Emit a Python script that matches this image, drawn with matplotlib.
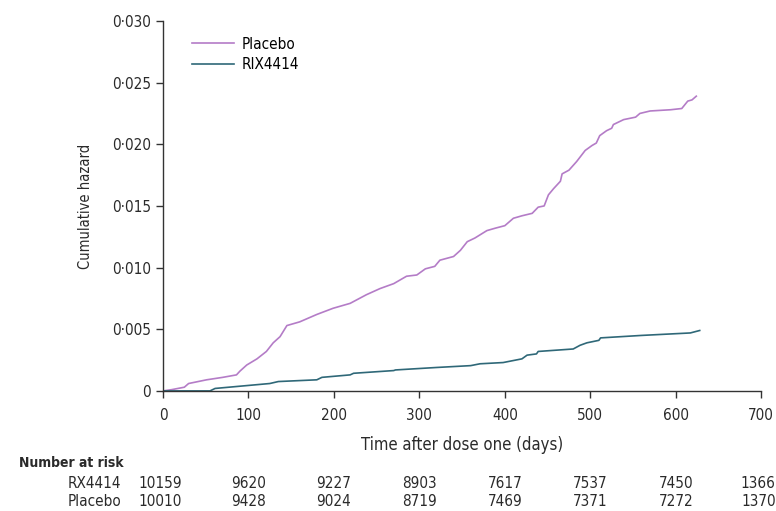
import matplotlib
matplotlib.use("Agg")
import matplotlib.pyplot as plt
from matplotlib.ticker import FuncFormatter

plt.rcParams['font.family'] = ['DejaVu Sans']
plt.rcParams['font.stretch'] = 'condensed'

# --- Data ---
placebo_t = [0, 10, 25, 30, 51, 70, 86, 90, 98, 110, 121, 129, 137, 145, 160, 180,
             199, 219, 238, 254, 270, 285, 297, 307, 318, 324, 340, 348, 356, 365,
             379, 389, 400, 410, 420, 432, 439, 446, 451, 457, 465, 467, 475, 484,
             494, 502, 507, 511, 519, 525, 527, 539, 553, 558, 570, 594, 607, 614,
             619, 624]
placebo_h = [0, 0.0001, 0.0003, 0.0006, 0.0009, 0.0011, 0.0013, 0.0016, 0.0021, 0.0026,
             0.0032, 0.0039, 0.0044, 0.0053, 0.0056, 0.0062, 0.0067, 0.0071, 0.0078,
             0.0083, 0.0087, 0.0093, 0.0094, 0.0099, 0.0101, 0.0106, 0.0109, 0.0114,
             0.0121, 0.0124, 0.0130, 0.0132, 0.0134, 0.0140, 0.0142, 0.0144, 0.0149,
             0.0150, 0.0159, 0.0164, 0.0170, 0.0176, 0.0179, 0.0186, 0.0195, 0.0199,
             0.0201, 0.0207, 0.0211, 0.0213, 0.0216, 0.0220, 0.0222, 0.0225, 0.0227,
             0.0228, 0.0229, 0.0235, 0.0236, 0.0239]

rix_t = [0, 55, 61, 125, 135, 180, 186, 219, 223, 270, 272, 320, 360, 371, 398, 420,
         426, 437, 439, 480, 488, 496, 510, 512, 560, 617, 628]
rix_h = [0, 0, 0.0002, 0.0006, 0.00076, 0.0009, 0.0011, 0.0013, 0.00143, 0.00165,
         0.0017, 0.0019, 0.00205, 0.0022, 0.0023, 0.0026, 0.0029, 0.0030, 0.0032,
         0.0034, 0.0037, 0.0039, 0.0041, 0.0043, 0.0045, 0.0047, 0.0049]

risk_times = [0, 100, 200, 300, 400, 500, 600, 700]
risk_rix = [10159, 9620, 9227, 8903, 7617, 7537, 7450, 1366]
risk_placebo = [10010, 9428, 9024, 8719, 7469, 7371, 7272, 1370]

PLACEBO_COLOR = '#b47cc7'
RIX_COLOR = '#2f6878'
TEXT_COLOR = '#2a2a2a'

# --- Figure ---
fig = plt.figure(figsize=(7.76, 5.11), dpi=100)
ax = fig.add_axes([0.210, 0.235, 0.771, 0.724])

ax.plot(placebo_t, placebo_h, color=PLACEBO_COLOR, lw=1.2, label='Placebo')
ax.plot(rix_t, rix_h, color=RIX_COLOR, lw=1.2, label='RIX4414')

ax.set_xlim(0, 700)
ax.set_ylim(0, 0.030)
ax.set_xticks(range(0, 701, 100))
ax.set_yticks([0, 0.005, 0.010, 0.015, 0.020, 0.025, 0.030])


def dot_fmt(v, pos):
    if v == 0:
        return '0'
    return f'{v:.3f}'.replace('.', '\u00b7')


ax.yaxis.set_major_formatter(FuncFormatter(dot_fmt))

for s in ['top', 'right']:
    ax.spines[s].set_visible(False)
for s in ['left', 'bottom']:
    ax.spines[s].set_color('#333333')
    ax.spines[s].set_linewidth(1.0)
ax.tick_params(direction='out', length=5, width=1, colors='#333333',
               labelsize=11, labelcolor=TEXT_COLOR)
ax.tick_params(axis='x', pad=7)

ax.set_ylabel('Cumulative hazard', fontsize=10.5, color=TEXT_COLOR, labelpad=14)
ax.set_xlabel('Time after dose one (days)', fontsize=12, color=TEXT_COLOR, labelpad=10)

ax.legend(loc='upper left', bbox_to_anchor=(0.025, 0.995), frameon=False,
          fontsize=11, handlelength=2.8, handletextpad=0.5, labelspacing=0.35)

# --- Number at risk table ---
fig.text(19 / 776, 1 - 463 / 511, 'Number at risk', fontsize=10, fontweight='bold',
         color=TEXT_COLOR, va='center', ha='left')
rows = [('RX4414', risk_rix, 484), ('Placebo', risk_placebo, 502)]
for name, vals, ypix in rows:
    yf = 1 - ypix / 511
    fig.text(121 / 776, yf, name, fontsize=11, color=TEXT_COLOR, ha='right', va='center')
    for t, v in zip(risk_times, vals):
        xd = ax.transData.transform((t, 0))[0]
        xf = fig.transFigure.inverted().transform((xd, 0))[0]
        if t in (0, 700):
            xf -= 3 / 776
        fig.text(xf, yf, str(v), fontsize=11, color=TEXT_COLOR, ha='center', va='center')

fig.savefig('out.png', dpi=100)
